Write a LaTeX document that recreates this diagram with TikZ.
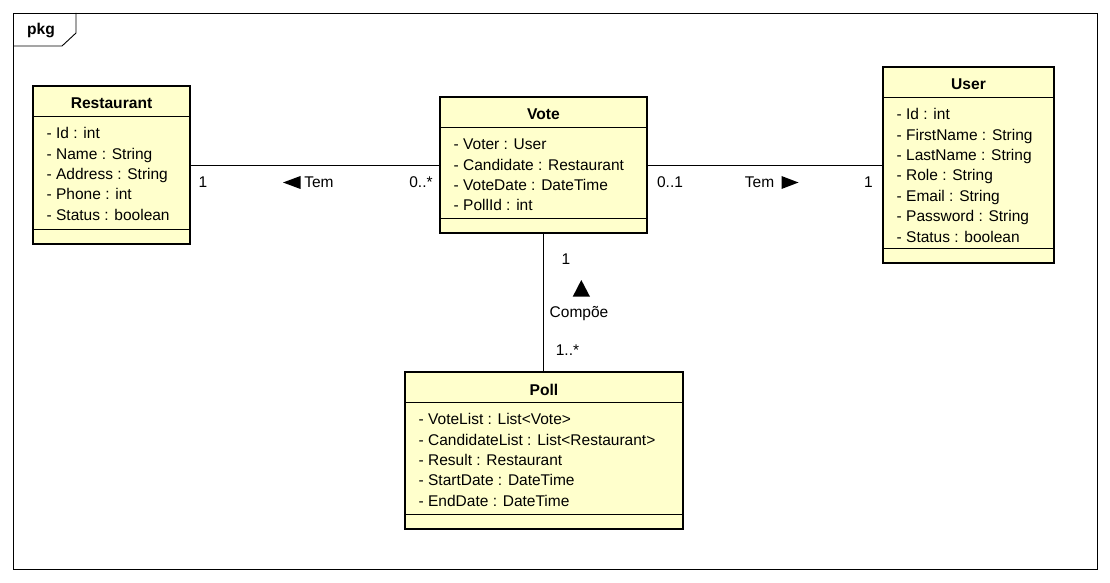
\documentclass[tikz,border=0pt]{standalone}
\usepackage{fontspec}
\setmainfont{Liberation Sans}
\usetikzlibrary{calc}
\definecolor{classfill}{HTML}{FFFFCC}
\tikzset{frame/.style={line width=.9pt, black}}
\tikzset{classbox/.style={draw=black, line width=2.6pt, fill=classfill, inner sep=0pt, outer sep=0pt, anchor=north west}}
\tikzset{sepline/.style={line width=.8pt, black}}
\tikzset{link/.style={line width=.9pt, black}}
\tikzset{classname/.style={font=\bfseries\fontsize{15.6}{18}\selectfont, anchor=base, inner sep=0pt}}
\tikzset{attrs/.style={font=\fontsize{15.5}{20.4}\selectfont, align=left, anchor=north west, inner sep=0pt}}
\tikzset{lbl/.style={font=\fontsize{15.5}{18}\selectfont, anchor=base, inner sep=0pt}}
\newcommand{\drawclass}[6]{% name, top left, width, height, title, attributes
 \node[classbox, minimum width=#3, minimum height=#4] (#1) at (#2) {};
 \node[classname] (#1-name) at ($(#1.north)+(0,-23)$) {#5};
 \draw[sepline] ($(#1.north west)+(0,-30)$) coordinate (#1-s1) -- ($(#1.north east)+(0,-30)$);
 \draw[sepline] ($(#1.south west)+(0,15)$) -- ($(#1.south east)+(0,15)$);
 \node[attrs] (#1-attrs) at ($(#1-s1)+(13.5,-8.2)$) {\strut #6};
}

\begin{document}
\begin{tikzpicture}[x=1pt, y=1pt]
		\useasboundingbox (0,0) rectangle (1110,582);
		% Coordinates
		\coordinate (F) at (13,13);
		\coordinate (F') at (1097,569);
		\coordinate (T1) at (76,569);
		\coordinate (T2) at (76,549);
		\coordinate (T3) at (62,536);
		\coordinate (T4) at (13,536);

		% Frame
		\draw[frame] (F) rectangle (F');
		\draw[frame] (T1) -- (T2) -- (T3) -- (T4);
		\node[classname] (pkg) at (41,547) {pkg};

		% Classes
		\drawclass{rest}{33,496}{157pt}{158pt}{Restaurant}{- Id : int\\- Name : String\\- Address : String\\- Phone : int\\- Status : boolean};
		\drawclass{vote}{440,485}{207pt}{136pt}{Vote}{- Voter : User\\- Candidate : Restaurant\\- VoteDate : DateTime\\- PollId : int};
		\drawclass{user}{883,515}{171pt}{196pt}{User}{- Id : int\\- FirstName : String\\- LastName : String\\- Role : String\\- Email : String\\- Password : String\\- Status : boolean};
		\drawclass{poll}{405,210}{278pt}{157pt}{Poll}{- VoteList : List<Vote>\\- CandidateList : List<Restaurant>\\- Result : Restaurant\\- StartDate : DateTime\\- EndDate : DateTime};

		% Associations
		\draw[link] (rest.east) -- (vote.west);
		\draw[link] (vote.east) -- (user.west);
		\draw[link] (vote.south) -- (vote.south |- poll.north);

		% Labels
		\node[lbl] (rest-one) at (203,394) {1};
		\node[lbl] (tem-l) at (319,394) {Tem};
		\fill (283,399.5) -- (300.5,406) -- (300.5,393) -- cycle;
		\node[lbl] (vote-many) at (421,394) {0..*};
		\node[lbl] (vote-opt) at (670,394) {0..1};
		\node[lbl] (tem-r) at (759.5,394) {Tem};
		\fill (798.5,399.5) -- (781.5,406) -- (781.5,393) -- cycle;
		\node[lbl] (user-one) at (868.5,394) {1};
		\node[lbl] (vote-one) at (566,317.5) {1};
		\fill (581.3,302) -- (572.7,285.3) -- (590,285.3) -- cycle;
		\node[lbl] (compoe) at (579,265) {Compõe};
		\node[lbl] (poll-many) at (567.5,227) {1..*};
	\end{tikzpicture}
\end{document}
